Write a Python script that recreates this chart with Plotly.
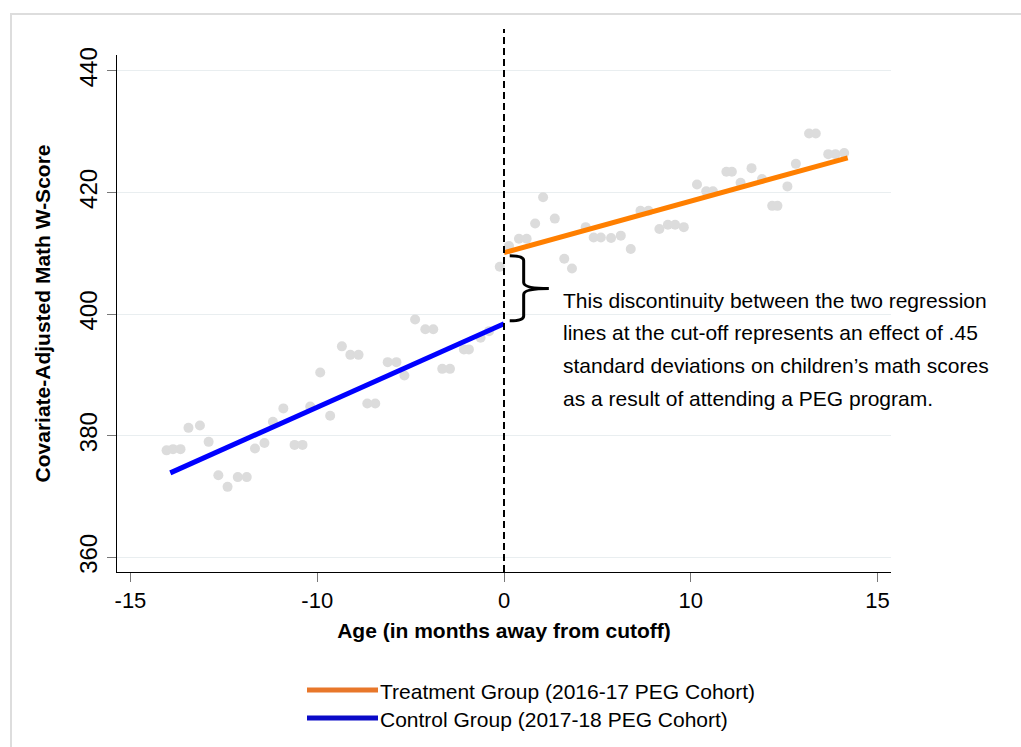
import plotly.graph_objects as go

# Binned means: age in months relative to the cutoff, covariate-adjusted math W-score
bin_age = [-13.55, -13.29, -12.99, -12.67, -12.21, -11.86, -11.47, -11.10, -10.69, -10.33,
           -10.00, -9.62, -9.28, -8.86, -8.41, -8.09, -7.78, -7.38, -6.98, -6.51,
           -6.17, -5.84, -5.49, -5.17, -4.67, -4.32, -4.00, -3.57, -3.16, -2.84,
           -2.48, -2.17, -1.61, -1.41, -0.94, -0.60, -0.17,
           0.20, 0.60, 0.91, 1.25, 1.57, 2.04, 2.42, 2.73, 3.28, 3.60,
           3.89, 4.30, 4.69, 5.09, 5.48, 5.80, 6.24, 6.58, 6.87, 7.22,
           7.75, 8.12, 8.39, 8.93, 9.15, 9.50, 9.94, 10.36, 10.77, 10.98,
           11.38, 11.72, 12.25, 12.52, 13.02, 13.31, 13.66]
bin_score = [377.6, 377.8, 377.8, 381.3, 381.7, 379.0, 373.5, 371.6, 373.2, 373.2,
             377.9, 378.8, 382.3, 384.5, 378.5, 378.5, 384.8, 390.4, 383.3, 394.7,
             393.3, 393.3, 385.3, 385.3, 392.1, 392.1, 389.9, 399.1, 397.5, 397.5,
             391.0, 391.0, 394.2, 394.2, 396.1, 397.2, 407.8,
             411.2, 412.4, 412.4, 414.9, 419.2, 415.7, 409.1, 407.5, 414.3, 412.6,
             412.6, 412.5, 412.9, 410.7, 417.0, 417.0, 414.0, 414.7, 414.7, 414.3,
             421.3, 420.2, 420.2, 423.4, 423.4, 421.6, 424.0, 422.2, 417.8, 417.8,
             421.0, 424.7, 429.7, 429.7, 426.3, 426.3, 426.5]

# Fitted regression lines on each side of the cutoff
control_age = [-13.4, 0.0]
control_fit = [373.9, 398.4]
treatment_age = [0.0, 13.8]
treatment_fit = [410.1, 425.7]

# Axis ticks
x_tickvals = [-15, -7.5, 0, 7.5, 15]
x_ticktext = ["-15", "-10", "0", "10", "15"]
y_tickvals = [360, 380, 400, 420, 440]

legend_labels = ["Treatment Group (2016-17 PEG Cohort)", "Control Group (2017-18 PEG Cohort)"]
legend_colors = ["#E8772A", "#0A0AC8"]

note_lines = ["This discontinuity between the two regression",
              "lines at the cut-off represents an effect of .45",
              "standard deviations on children’s math scores",
              "as a result of attending a PEG program."]

FONT = "Liberation Sans, Arial, sans-serif"

# plot-area pixel geometry used to place the paper-referenced decorations
L, R, T, B = 117, 891, 55, 572
W, H = R - L, B - T


def px(x):
    return (x - L) / W


def py(y):
    return (B - y) / H


fig = go.Figure()
fig.add_trace(go.Scatter(x=bin_age, y=bin_score, mode="markers",
                         marker=dict(size=10, color="#DCDCDC"), showlegend=False,
                         hoverinfo="x+y"))
fig.add_trace(go.Scatter(x=control_age, y=control_fit, mode="lines",
                         line=dict(color="#0000FF", width=5), showlegend=False))
fig.add_trace(go.Scatter(x=treatment_age, y=treatment_fit, mode="lines",
                         line=dict(color="#FF7F00", width=5), showlegend=False))

shapes = []
# outer panel frame
shapes.append(dict(type="rect", xref="paper", yref="paper", x0=px(11), x1=px(1100),
                   y0=py(900), y1=py(14), line=dict(color="#DDDDDD", width=2), layer="below"))
# cutoff line
shapes.append(dict(type="line", xref="x", yref="paper", x0=0, x1=0, y0=0, y1=py(29),
                   line=dict(color="black", width=2, dash="7px,4px")))
# brace marking the gap between the two fitted lines
shapes.append(dict(type="path", xref="x", yref="y",
                   path=("M 0.23,409.6 Q 0.79,409.6 0.79,408.8 L 0.79,405.2 "
                         "Q 0.79,404.2 1.80,404.2 Q 0.79,404.2 0.79,403.2 "
                         "L 0.79,399.7 Q 0.79,398.9 0.23,398.9"),
                   line=dict(color="black", width=3)))

annotations = []
for i, line in enumerate(note_lines):
    annotations.append(dict(text=line, xref="paper", yref="paper", x=px(561), y=py(300 + 32.7 * i),
                            xanchor="left", yanchor="middle", align="left", showarrow=False,
                            font=dict(family=FONT, size=21, color="black")))

# legend drawn below the x-axis title
for i, (lab, col) in enumerate(zip(legend_labels, legend_colors)):
    yc = py(690 + 28 * i)
    shapes.append(dict(type="line", xref="paper", yref="paper",
                       x0=px(307), x1=px(378), y0=yc, y1=yc,
                       line=dict(color=col, width=5)))
    annotations.append(dict(text=lab, xref="paper", yref="paper", x=px(378), y=py(691 + 28 * i),
                            xanchor="left", yanchor="middle", showarrow=False,
                            font=dict(family=FONT, size=21, color="black")))

fig.update_layout(
    width=1021, height=747,
    margin=dict(l=L, r=1021 - R, t=T, b=747 - B),
    paper_bgcolor="white", plot_bgcolor="white",
    shapes=shapes, annotations=annotations,
    xaxis=dict(range=[-15.54, 15.54], tickvals=x_tickvals, ticktext=x_ticktext,
               showgrid=False, zeroline=False, showline=True, linecolor="black", linewidth=1,
               ticks="outside", ticklen=9, tickcolor="#777777", tickwidth=1,
               tickfont=dict(family=FONT, size=22, color="black"),
               title=dict(text="<b>Age (in months away from cutoff)</b>",
                          font=dict(family=FONT, size=21, color="black"), standoff=10)),
    yaxis=dict(range=[357.6, 442.6], tickvals=y_tickvals,
               showgrid=True, gridcolor="#E9EEF0", gridwidth=1, zeroline=False,
               showline=True, linecolor="black", linewidth=1,
               ticks="outside", ticklen=9, tickcolor="#777777", tickwidth=1,
               tickangle=-90,
               tickfont=dict(family=FONT, size=24, color="black"),
               title=dict(text="<b>Covariate-Adjusted Math W-Score</b>",
                          font=dict(family=FONT, size=21, color="black"), standoff=19)),
)

fig.write_html("out.html")
